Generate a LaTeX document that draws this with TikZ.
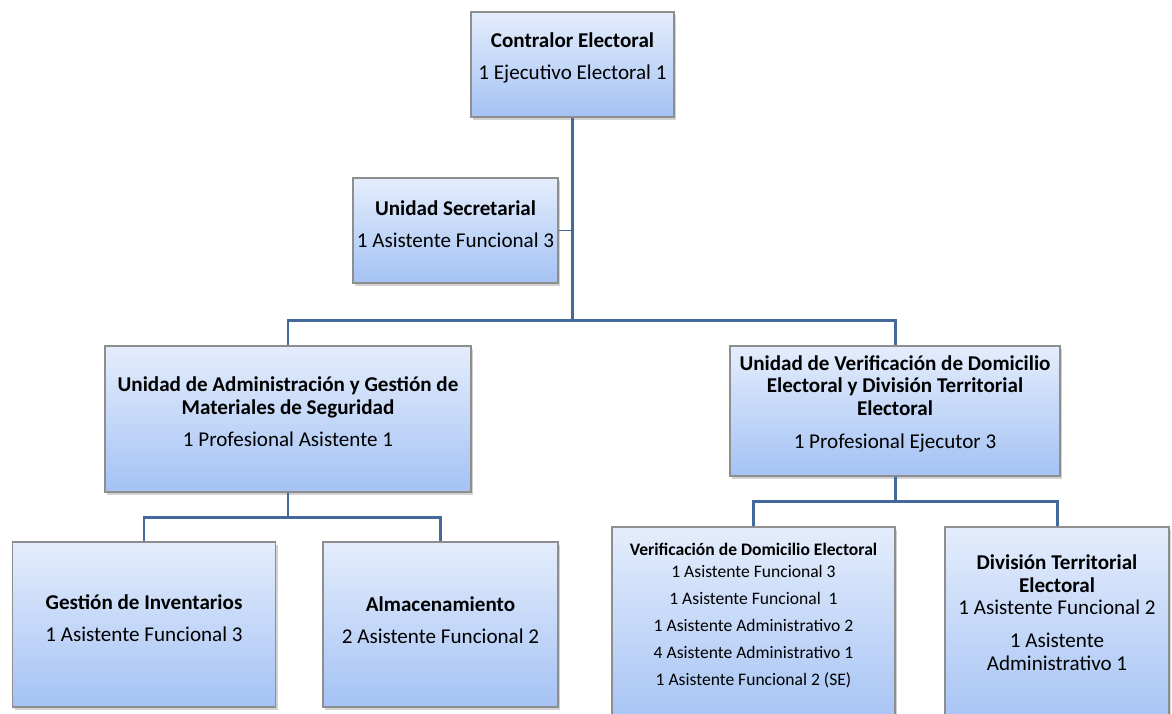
\documentclass[tikz,border=0pt]{standalone}
\usepackage{fontspec}
\setmainfont{Carlito}
\usetikzlibrary{calc,positioning,shadows}
\definecolor{boxtop}{HTML}{E4EDFC}
\definecolor{boxbot}{HTML}{A4C2F4}
\definecolor{boxline}{HTML}{8E8E8E}
\definecolor{linkblue}{HTML}{44699C}
\tikzset{
	box/.style={draw=boxline, line width=0.7pt, top color=boxtop, bottom color=boxbot, inner sep=0pt,
		drop shadow={shadow xshift=1.2pt, shadow yshift=-1.6pt, opacity=0.35}},
	txt/.style={align=center, font=\fontsize{12}{13}\selectfont, inner sep=0pt},
	link/.style={draw=linkblue, line width=1.7pt},
}
\begin{document}
\begin{tikzpicture}[x=0.02cm, y=-0.02cm]
	\clip (0,0) rectangle (1172,713);
	\fill[white] (0,0) rectangle (1172,713);
	\node[box, minimum width=4.06cm, minimum height=2.1cm] at (572.5,64.5) (ce) {};
	\node[box, minimum width=4.1cm, minimum height=2.1cm] at (455.5,230.5) (us) {};
	\node[box, minimum width=7.32cm, minimum height=2.92cm] at (288,419) (uag) {};
	\node[box, minimum width=6.6cm, minimum height=2.6cm] at (895,411) (uvd) {};
	\node[box, minimum width=5.26cm, minimum height=3.3cm] at (144,624.5) (gi) {};
	\node[box, minimum width=4.7cm, minimum height=3.3cm] at (440.5,624.5) (alm) {};
	\node[box, minimum width=5.66cm, minimum height=4.06cm] at (753.5,628.5) (vde) {};
	\node[box, minimum width=4.48cm, minimum height=4.06cm] at (1057,628.5) (dte) {};
	\draw[link] (ce.south) -- ++(0,204) coordinate (hub);
	\draw[link] (uag.north) -- ++(0,-25) -| (uvd.north);
	\draw[draw=linkblue, line width=0.9pt] (us.east) -- (us.east -| hub);
	\draw[link] (uag.south) -- ++(0,26);
	\draw[link] (gi.north) -- ++(0,-24) -| (alm.north);
	\draw[link] (uvd.south) -- ++(0,26);
	\draw[link] (vde.north) -- ++(0,-25) -| (dte.north);
	\node[txt] at (572.5,58) (ce-t) {\textbf{Contralor Electoral}\\[5.2pt] 1 Ejecutivo Electoral 1};
	\node[txt] at (455.5,224.5) (us-t) {\textbf{Unidad Secretarial}\\[5.2pt] 1 Asistente Funcional 3};
	\node[txt] at (288,411.5) (uag-t) {\textbf{Unidad de Administración y Gestión de}\\ \textbf{Materiales de Seguridad}\\[5.5pt] 1 Profesional Asistente 1};
	\node[txt] at (895,403.5) (uvd-t) {\textbf{Unidad de Verificación de Domicilio}\\ \textbf{Electoral y División Territorial}\\ \textbf{Electoral}\\[5.5pt] 1 Profesional Ejecutor 3};
	\node[txt] at (144,618) (gi-t) {\textbf{Gestión de Inventarios}\\[5.2pt] 1 Asistente Funcional 3};
	\node[txt] at (440.5,620) (alm-t) {\textbf{Almacenamiento}\\[5.2pt] 2 Asistente Funcional 2};
	\node[txt, font=\fontsize{10}{12.5}\selectfont] at (753.5,615.5) (vde-t) {\textbf{Verificación de Domicilio Electoral}\\ 1 Asistente Funcional 3\\[2.8pt] 1 Asistente Funcional~~1\\[2.8pt] 1 Asistente Administrativo 2\\[2.8pt] 4 Asistente Administrativo 1\\[2.8pt] 1 Asistente Funcional 2 (SE)};
	\node[txt] at (1057,612.5) (dte-t) {\textbf{División Territorial}\\ \textbf{Electoral}\\[-0.5pt] 1 Asistente Funcional 2\\[5.7pt] 1 Asistente\\ Administrativo 1};
\end{tikzpicture}
\end{document}
